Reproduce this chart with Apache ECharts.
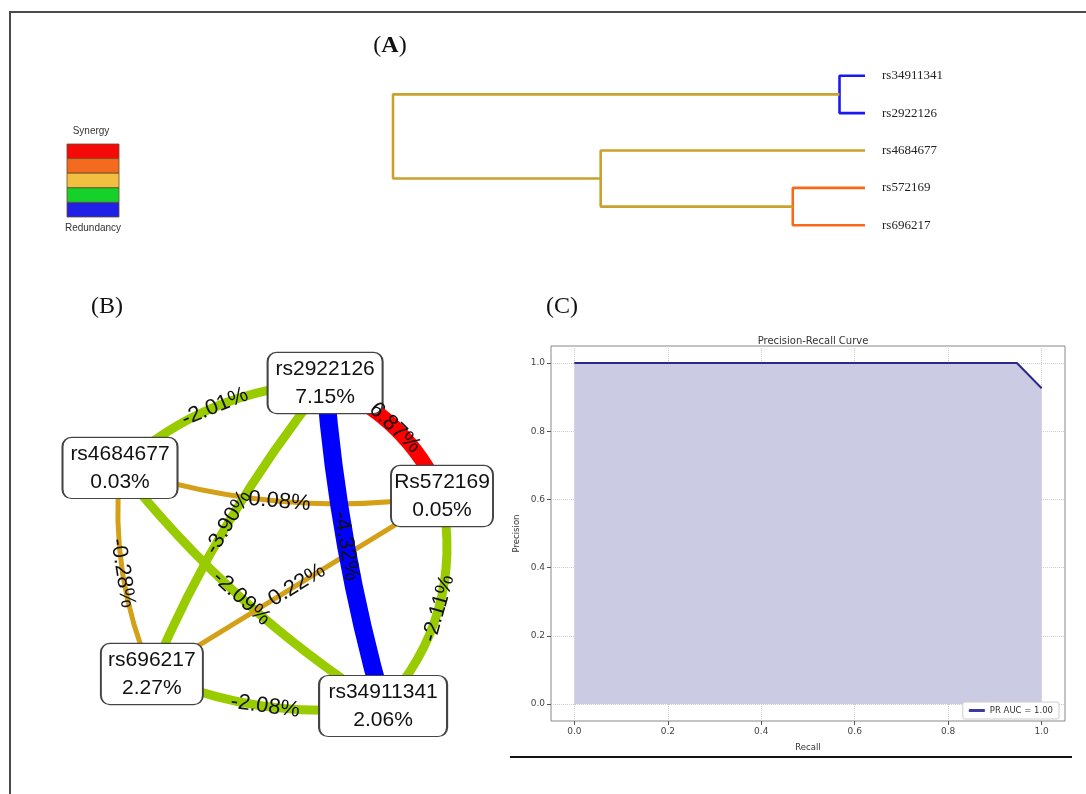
<!DOCTYPE html>
<html><head><meta charset="utf-8">
<script src="https://cdn.jsdelivr.net/npm/echarts@6/dist/echarts.min.js"></script>
<style>html,body{margin:0;padding:0;background:#fff}#c{width:1086px;height:794px}</style>
</head><body><div id="c"></div>
<script>
// ---------- Panel A: dendrogram ----------
const leafNames = ['rs34911341', 'rs2922126', 'rs4684677', 'rs572169', 'rs696217'];
// merge k creates node (5 + k) from children mergeA[k], mergeB[k]
const mergeA = [0, 3, 2, 5];
const mergeB = [1, 4, 6, 7];
const mergeHeight = [0.054, 0.153, 0.56, 1.0];
const mergeCluster = ['blue', 'orange', 'gold', 'gold'];

// ---------- Colour scale legend ----------
const scaleColors = ['#F50A0A', '#F26B1F', '#F2C040', '#15D12A', '#1F22E6'];

// ---------- Panel B: interaction network ----------
const snpNames = ['rs2922126', 'Rs572169', 'rs34911341', 'rs696217', 'rs4684677'];
const snpGain = [7.15, 0.05, 2.06, 2.27, 0.03];
const snpLayoutX = [0.637, 1.0, 0.817, 0.099, 0.0];
const snpLayoutY = [0.0, 0.350, 1.0, 0.901, 0.263];
const edgeFrom = [4, 3, 4, 1, 4, 1, 2, 0, 0, 0];
const edgeTo   = [1, 4, 0, 2, 2, 3, 3, 3, 1, 2];
const edgeGain = [0.08, -0.28, -2.01, -2.11, -2.09, 0.22, -2.08, -3.90, 6.87, -4.32];
const edgeCurve = [-0.12, 0.13, 0.18, 0.25, -0.085, 0, 0.14, -0.07, 0.2, -0.05];

// ---------- Panel C: precision-recall ----------
const recall = [0.0, 0.947, 1.0];
const precision = [1.0, 1.0, 0.926];
const prTicks = [0, 0.2, 0.4, 0.6, 0.8, 1.0];
const prLegend = 'PR AUC = 1.00';

// ---------- build dendrogram ----------
const clusterColor = { blue: '#1A1AF0', orange: '#F86A1A', gold: '#C9A12E' };
const nodeY = leafNames.map((_, i) => i);
const nodeH = leafNames.map(() => 0);
const dendroSeries = [];
mergeA.forEach((a, k) => {
  const b = mergeB[k], h = mergeHeight[k];
  nodeY.push((nodeY[a] + nodeY[b]) / 2);
  nodeH.push(h);
  dendroSeries.push({
    type: 'line', xAxisIndex: 0, yAxisIndex: 0, symbol: 'none', silent: true,
    lineStyle: { color: clusterColor[mergeCluster[k]], width: 2.6 },
    data: [[nodeH[a], nodeY[a]], [h, nodeY[a]], [h, nodeY[b]], [nodeH[b], nodeY[b]]]
  });
});

// ---------- build network ----------
function edgeColor(v) {
  if (v >= 5) return '#FF0000';
  if (v >= 1) return '#FF6A13';
  if (v >= -1) return '#D4A017';
  if (v >= -4) return '#99CC00';
  return '#0000FF';
}
function edgeWidth(v) {
  if (v >= 5) return 15;
  if (v >= 1) return 12;
  if (v >= -1) return 5;
  if (v >= -4) return 9;
  return 18;
}
function boxPath(w, h) {
  const r = 9;
  return `path://M${r},0 H${w - r} A${r},${r} 0 0 1 ${w},${r} V${h - r} A${r},${r} 0 0 1 ${w - r},${h} H${r} A${r},${r} 0 0 1 0,${h - r} V${r} A${r},${r} 0 0 1 ${r},0 Z`;
}
const graphNodes = snpNames.map((n, i) => {
  const w = 13 * n.length - 2, h = 61;
  return {
    name: n, value: snpGain[i], x: snpLayoutX[i], y: snpLayoutY[i],
    symbol: boxPath(w, h), symbolSize: [w, h]
  };
});
const graphLinks = edgeGain.map((v, i) => ({
  source: snpNames[edgeFrom[i]], target: snpNames[edgeTo[i]], value: v,
  lineStyle: { color: edgeColor(v), width: edgeWidth(v), curveness: edgeCurve[i], opacity: 1 }
}));

// ---------- graphics ----------
const graphics = [
  { type: 'polyline', shape: { points: [[10, 794], [10, 12], [1086, 12]] },
    style: { stroke: '#4a4a4a', lineWidth: 2, fill: null } },
  { type: 'line', shape: { x1: 510, y1: 757, x2: 1072, y2: 757 },
    style: { stroke: '#111', lineWidth: 2 } },
  { type: 'text', x: 390, y: 46, style: { text: '({b|A})', font: '24px "Liberation Serif"', fill: '#111',
      align: 'center', verticalAlign: 'middle',
      rich: { b: { fontWeight: 'bold', fontSize: 24, fontFamily: 'Liberation Serif', fill: '#111' } } } },
  { type: 'text', x: 107, y: 307, style: { text: '(B)', font: '24px "Liberation Serif"', fill: '#111',
      align: 'center', verticalAlign: 'middle' } },
  { type: 'text', x: 562, y: 307, style: { text: '(C)', font: '24px "Liberation Serif"', fill: '#111',
      align: 'center', verticalAlign: 'middle' } },
  { type: 'text', x: 91, y: 131, style: { text: 'Synergy', font: '10px "Liberation Sans"', fill: '#333',
      align: 'center', verticalAlign: 'middle' } },
  { type: 'text', x: 93, y: 228, style: { text: 'Redundancy', font: '10px "Liberation Sans"', fill: '#333',
      align: 'center', verticalAlign: 'middle' } }
];
scaleColors.forEach((c, i) => {
  graphics.push({ type: 'rect', shape: { x: 67, y: 144 + i * 14.6, width: 52, height: 14.6 },
    style: { fill: c, stroke: '#6b4a2a', lineWidth: 0.8 } });
});

const chart = echarts.init(document.getElementById('c'), null, { renderer: 'canvas' });
chart.setOption({
  animation: false,
  backgroundColor: '#fff',
  graphic: graphics,
  title: {
    text: 'Precision-Recall Curve', left: 808, top: 331, textAlign: 'center',
    textStyle: { fontSize: 10, fontWeight: 'normal', color: '#333', fontFamily: 'DejaVu Sans' }
  },
  legend: {
    data: [prLegend], right: 27, top: 702, orient: 'horizontal',
    icon: 'rect', itemWidth: 16, itemHeight: 3, padding: [4, 6, 4, 6],
    borderColor: '#ccc', borderWidth: 1, borderRadius: 2, backgroundColor: '#fff',
    textStyle: { fontSize: 8.5, color: '#333', fontFamily: 'DejaVu Sans' }
  },
  grid: [
    { left: 393, top: 57, width: 472, height: 187 },
    { left: 551, right: 21, top: 346, bottom: 73, show: true, borderColor: '#888', borderWidth: 1,
      backgroundColor: 'transparent' }
  ],
  xAxis: [
    { gridIndex: 0, type: 'value', min: 0, max: 1, inverse: true, show: false },
    { gridIndex: 1, type: 'value', min: -0.05, max: 1.05,
      name: 'Recall', nameLocation: 'middle', nameGap: 22,
      nameTextStyle: { fontSize: 8.5, color: '#333', fontFamily: 'DejaVu Sans' },
      axisLine: { show: false, onZero: false },
      axisTick: { show: true, length: 4, customValues: prTicks, lineStyle: { color: '#555' } },
      axisLabel: { customValues: prTicks, formatter: v => v.toFixed(1), fontSize: 9, color: '#444',
        fontFamily: 'DejaVu Sans', margin: 6 },
      splitLine: { show: true, lineStyle: { type: 'dotted', color: '#ccc' } } }
  ],
  yAxis: [
    { gridIndex: 0, type: 'value', min: -0.5, max: 4.5, inverse: true, position: 'right',
      axisLine: { show: false, onZero: false }, axisTick: { show: false }, splitLine: { show: false },
      axisLabel: { customValues: nodeY.slice(0, leafNames.length), formatter: v => leafNames[v],
        margin: 17, fontSize: 13, color: '#222', fontFamily: 'Liberation Serif' } },
    { gridIndex: 1, type: 'value', min: -0.05, max: 1.05,
      name: 'Precision', nameLocation: 'middle', nameGap: 30, nameRotate: 90,
      nameTextStyle: { fontSize: 8.5, color: '#333', fontFamily: 'DejaVu Sans' },
      axisLine: { show: false, onZero: false },
      axisTick: { show: true, length: 4, customValues: prTicks, lineStyle: { color: '#555' } },
      axisLabel: { customValues: prTicks, formatter: v => v.toFixed(1), fontSize: 9, color: '#444',
        fontFamily: 'DejaVu Sans', margin: 6 },
      splitLine: { show: true, lineStyle: { type: 'dotted', color: '#ccc' } } }
  ],
  series: dendroSeries.concat([
    {
      name: prLegend, type: 'line', xAxisIndex: 1, yAxisIndex: 1, symbol: 'none',
      data: recall.map((r, i) => [r, precision[i]]),
      lineStyle: { color: '#2A2A8A', width: 2 }, itemStyle: { color: '#3B3BA0' },
      areaStyle: { color: '#CBCCE4', opacity: 1 }
    },
    {
      type: 'graph', layout: 'none', left: 120, top: 383, width: 322, height: 323,
      roam: false, silent: true,
      data: graphNodes, links: graphLinks,
      itemStyle: { color: '#fff', borderColor: '#444', borderWidth: 1.5 },
      label: { show: true, position: 'inside', color: '#111', fontSize: 21, lineHeight: 28,
        fontFamily: 'Liberation Sans',
        formatter: p => p.name + '\n' + p.value.toFixed(2) + '%' },
      edgeSymbol: ['none', 'none'],
      edgeLabel: { show: true, position: 'insideMiddle', fontSize: 22, color: '#111',
        fontFamily: 'Liberation Sans',
        formatter: p => p.value.toFixed(2) + '%' },
      emphasis: { disabled: true }
    }
  ])
});
</script></body></html>
